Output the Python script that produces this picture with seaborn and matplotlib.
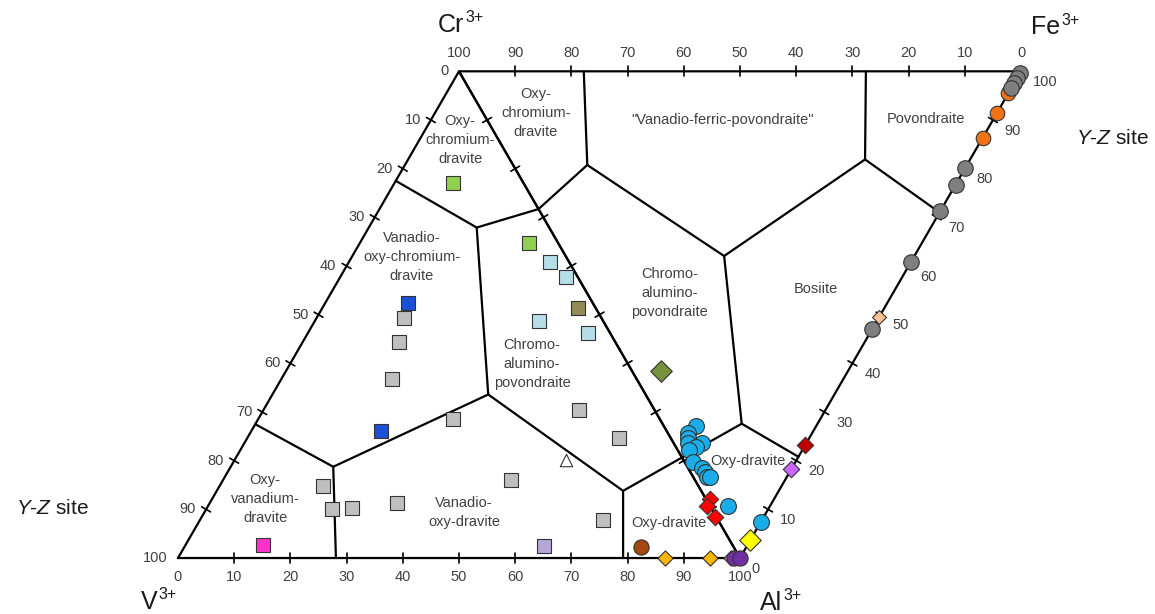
import numpy as np
import seaborn as sns
import matplotlib.pyplot as plt

# compositions in % of the Y-Z site; V = 100 - Al - Cr - Fe
grey_sq_al = [15.6, 17.1, 19.6, 34.7, 56.1, 66.1, 18.4, 22.4, 25.9, 33.3, 51.2, 71.7]
grey_sq_cr = [49.3, 44.4, 36.8, 28.6, 30.4, 24.7, 14.9, 10.1, 10.2, 11.4, 16.0, 7.8]

lblue_sq_al = [35.8, 40.1, 39.9, 49.9]
lblue_sq_cr = [60.8, 57.7, 48.7, 46.2]

green_sq_al = [10.4, 30.1]
green_sq_cr = [77.0, 64.8]

olive_sq_al = [45.5]
olive_sq_cr = [51.3]

blue_sq_al = [14.6, 23.0]
blue_sq_cr = [52.5, 26.1]

pink_sq_al = [13.7]
pink_sq_cr = [2.7]

lilac_sq_al = [63.8]
lilac_sq_cr = [2.5]

tri_al = [59.0]
tri_cr = [20.1]

brown_al = [81.2]
brown_cr = [2.3]

gdiam_al = [61.5]
gdiam_cr = [33.3]
gdiam_fe = [5.2]

cyan_cr = [21.5, 22.0, 21.5, 18.6, 21.0, 19.3, 20.1, 18.2, 16.0, 15.1, 14.3, 13.7, 7.4, 0.0]
cyan_fe = [5.7, 3.6, 3.1, 5.0, 2.6, 3.6, 2.1, 1.6, 2.4, 2.6, 2.4, 3.0, 3.2, 7.3]

red_al = [87.9, 88.7, 91.4]
red_cr = [11.4, 10.7, 8.4]
red_fe = [0.7, 0.0, 0.0]

# points on the Al-Fe join (Cr = 0, V = 0)
grey_c_fe = [99.6, 98.6, 97.5, 96.5, 80.2, 76.7, 71.3, 60.8, 47.1]
orange_c_fe = [95.5, 91.5, 86.4]
lorange_fe = [49.6]
dred_fe = [23.2]
violet_fe = [18.2]
yellow_fe = [3.7]

# points on the V-Al join
orange_d_al = [86.7, 94.7]
rose_d_al = [98.4]
purple_al = [99.0, 100.0]

axis_vals = list(range(0, 101, 10))


def tern(al, cr=0, fe=0):
    al = np.asarray(al, float)
    cr = np.asarray(cr, float) * np.ones_like(al)
    fe = np.asarray(fe, float) * np.ones_like(al)
    return al + 0.5 * cr + 1.5 * fe, 0.866 * (cr + fe)


sns.set_theme(style='white')
plt.rcParams['font.family'] = ['Liberation Sans', 'DejaVu Sans']
plt.rcParams['mathtext.fontset'] = 'custom'
plt.rcParams['mathtext.rm'] = 'Liberation Sans'
plt.rcParams['mathtext.it'] = 'Liberation Sans:italic'

fig = plt.figure(figsize=(11.55, 6.14), dpi=100)
ax = fig.add_axes([0, 0, 1, 1])
ax.set_xlim(-31.67, 173.84)
ax.set_ylim(-9.96, 99.29)
ax.axis('off')

lw = 1.6
txt = '#404040'

# outline: two triangles sharing the Cr-Al join
for a, c, f in [([0, 100, 0, 0], [0, 0, 100, 0], [0, 0, 0, 0]),
                ([100, 0, 0, 100], [0, 100, 0, 0], [0, 0, 100, 0])]:
    x, y = tern(a, c, f)
    ax.plot(x, y, color='black', lw=lw, zorder=2)

# field boundaries, nodes as (Al, Cr, Fe)
nodes = {
    'A': (0, 77.5, 0), 'B': (19.2, 67.9, 0), 'C': (28.3, 71.7, 0),
    'D': (19.25, 67.55, 13.2), 'E': (0, 77.8, 22.2), 'F': (37.95, 33.85, 28.2),
    'G': (18.1, 18.7, 63.2), 'H': (0, 27.6, 72.4), 'I': (29, 0, 71),
    'J': (72.4, 13.5, 14.1), 'K': (79.2, 0, 20.8), 'M': (72.3, 13.8, 0),
    'N': (79.2, 0, 0), 'O': (38.4, 33.6, 0), 'P': (18.25, 18.75, 0),
    'Q': (0, 27.5, 0), 'R': (28.1, 0, 0),
}
for path in ['ABCDE', 'DF', 'FGH', 'GI', 'FJK', 'JMN', 'MOB', 'OPQ', 'PR']:
    pts = np.array([nodes[k] for k in path]).T
    x, y = tern(*pts)
    ax.plot(x, y, color='black', lw=lw, zorder=2)

# ticks
h = 0.9
for k in axis_vals[1:-1]:
    segs = [(tern(0, 100 - k), (-0.866, 0.5)),
            (tern(k), (0, 1)),
            (tern(0, k, 100 - k), (0, 1)),
            (tern(100 - k, 0, k), (0.866, -0.5)),
            (tern(k, 100 - k), (0.866, 0.5))]
    for (x0, y0), (dx, dy) in segs:
        ax.plot([x0 - h * dx, x0 + h * dx], [y0 - h * dy, y0 + h * dy],
                color='black', lw=1.2, zorder=2)

# tick labels
fs = 10.5
for k in axis_vals:
    x, y = tern(0, 100 - k)
    ax.text(x - 1.8, y, str(k), ha='right', va='center', fontsize=fs, color=txt)
    x, y = tern(k)
    ax.text(x, y - 3.4, str(k), ha='center', va='center', fontsize=fs, color=txt)
    x, y = tern(0, k, 100 - k)
    ax.text(x, y + 3.3, str(k), ha='center', va='center', fontsize=fs, color=txt)
    x, y = tern(100 - k, 0, k)
    ax.text(x + 2.1, y - 1.9, str(k), ha='left', va='center', fontsize=fs, color=txt)

# data points
ec = '#333333'
groups = [
    (tern(grey_sq_al, grey_sq_cr), 's', '#BFBFBF', 100),
    (tern(lblue_sq_al, lblue_sq_cr), 's', '#B7DEE8', 100),
    (tern(green_sq_al, green_sq_cr), 's', '#92D050', 100),
    (tern(olive_sq_al, olive_sq_cr), 's', '#948A54', 100),
    (tern(blue_sq_al, blue_sq_cr), 's', '#1A4FD6', 100),
    (tern(pink_sq_al, pink_sq_cr), 's', '#FF33CC', 100),
    (tern(lilac_sq_al, lilac_sq_cr), 's', '#B4A7D6', 100),
    (tern(tri_al, tri_cr), '^', 'white', 80),
    (tern(brown_al, brown_cr), 'o', '#A5480F', 120),
    (tern(gdiam_al, gdiam_cr, gdiam_fe), 'D', '#76923C', 120),
    (tern(100 - np.array(cyan_cr) - np.array(cyan_fe), cyan_cr, cyan_fe), 'o', '#19AEEA', 130),
    (tern(red_al, red_cr, red_fe), 'D', '#FF0000', 70),
    (tern(100 - np.array(orange_c_fe), 0, orange_c_fe), 'o', '#F47216', 110),
    (tern(100 - np.array(grey_c_fe), 0, grey_c_fe), 'o', '#7F7F7F', 125),
    (tern(100 - np.array(lorange_fe), 0, lorange_fe), 'D', '#FAC08F', 50),
    (tern(100 - np.array(dred_fe), 0, dred_fe), 'D', '#C00000', 70),
    (tern(100 - np.array(violet_fe), 0, violet_fe), 'D', '#CC66FF', 70),
    (tern(100 - np.array(yellow_fe), 0, yellow_fe), 'D', '#FFFF00', 120),
    (tern(orange_d_al), 'D', '#FFB400', 60),
    (tern(rose_d_al), 'D', '#D99694', 60),
    (tern(purple_al), 'o', '#7030A0', 120),
]
for (x, y), mk, col, size in groups:
    sns.scatterplot(x=x, y=y, ax=ax, marker=mk, color=col, s=size,
                    edgecolor=ec, linewidth=0.8, zorder=3, legend=False)

# field names, placed in diagram coordinates
fields = [
    (50.2, 74.4, 'Oxy-\nchromium-\ndravite'),
    (63.7, 79.2, 'Oxy-\nchromium-\ndravite'),
    (96.8, 77.9, '"Vanadio-ferric-povondraite"'),
    (133.1, 78.1, 'Povondraite'),
    (41.6, 53.6, 'Vanadio-\noxy-chromium-\ndravite'),
    (63.0, 34.5, 'Chromo-\nalumino-\npovondraite'),
    (87.5, 47.2, 'Chromo-\nalumino-\npovondraite'),
    (113.5, 47.8, 'Bosiite'),
    (101.4, 17.3, 'Oxy-dravite'),
    (87.3, 6.2, 'Oxy-dravite'),
    (15.5, 10.5, 'Oxy-\nvanadium-\ndravite'),
    (50.9, 8.1, 'Vanadio-\noxy-dravite'),
]
for x, y, s in fields:
    ax.text(x, y, s, ha='center', va='center', fontsize=10.5, color=txt,
            linespacing=1.45, zorder=4)

# apices: element symbol with a superscript charge
apices = [(50.9, 94.8, 'Cr'), (157.0, 94.4, 'Fe'), (-3.7, -7.8, 'V'), (107.5, -8.0, 'Al')]
for x, y, s in apices:
    ax.text(x, y, s, ha='right', va='center', fontsize=18, color='#1a1a1a')
    ax.text(x + 0.2, y + 1.3, '3+', ha='left', va='center', fontsize=11.5, color='#1a1a1a')

ax.text(-22.3, 8.9, r'$\mathit{Y}$-$\mathit{Z}$ site', ha='center', va='center', fontsize=15, color='#1a1a1a')
ax.text(166.2, 74.7, r'$\mathit{Y}$-$\mathit{Z}$ site', ha='center', va='center', fontsize=15, color='#1a1a1a')

fig.savefig('out.png', dpi=100, facecolor='white')
